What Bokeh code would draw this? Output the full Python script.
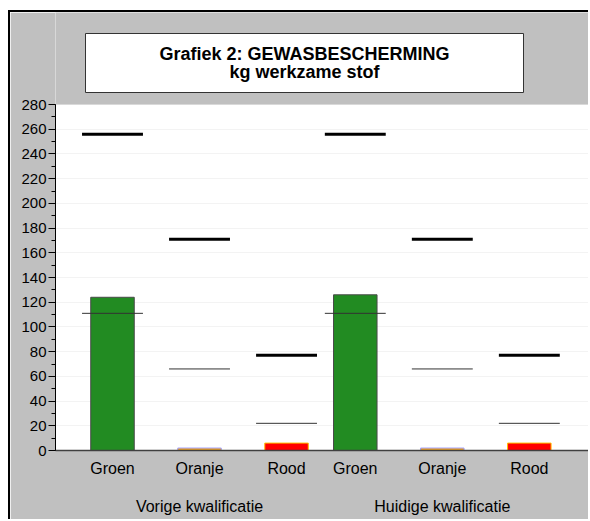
from bokeh.plotting import figure
from bokeh.models import Range1d, FixedTicker, LinearAxis, ColumnDataSource
from bokeh.core.properties import value
from bokeh.embed import file_html
from bokeh.resources import INLINE

# ---- data ----
groups = ["Vorige kwalificatie", "Huidige kwalificatie"]
categories = ["Groen", "Oranje", "Rood"]
bar_vorige = [124, 2, 6]
bar_huidige = [126, 2, 6]
upper_vorige = [256, 171, 77]
upper_huidige = [256, 171, 77]
lower_vorige = [111, 66, 22]
lower_huidige = [111, 66, 22]
y_ticks = list(range(0, 281, 20))
y_minor = list(range(0, 281, 10))
title_lines = ["Grafiek 2: GEWASBESCHERMING", "kg werkzame stof"]

bar_fill = ["#228B22", "#F5A623", "#FF0000"]
bar_line = ["#4a4a4a", "#a0a0ff", "#FFC000"]

GAP = 2.79  # group offset in category units
FONT = "Liberation Sans"
GRAY = "#C0C0C0"

# layout geometry (pixels)
CANVAS_W, CANVAS_H = 580, 509
BORDER_L, BORDER_R, BORDER_B = 45, 2, 71
FRAME_W = CANVAS_W - BORDER_L - BORDER_R
FRAME_H = CANVAS_H - BORDER_B
AXIS_H = 346                      # pixel height of the 0..280 axis
Y_MAX = 280
Y_END = Y_MAX * FRAME_H / AXIS_H  # frame extends up to the top of the panel
X0, X1 = -0.655, 5.47


def px_to_x(px):  # canvas px -> data x
    return X0 + (px - BORDER_L) * (X1 - X0) / FRAME_W


def py_to_y(py):  # canvas px from top -> data y
    return Y_END - py * Y_END / FRAME_H


xs, bars, ups, lows, fills, lines, labels = [], [], [], [], [], [], []
for g, (bv, uv, lv) in enumerate([(bar_vorige, upper_vorige, lower_vorige),
                                   (bar_huidige, upper_huidige, lower_huidige)]):
    for i, c in enumerate(categories):
        xs.append(i + g * GAP)
        bars.append(bv[i])
        ups.append(uv[i])
        lows.append(lv[i])
        fills.append(bar_fill[i])
        lines.append(bar_line[i])
        labels.append(c)

src = ColumnDataSource(dict(x=xs, bar=bars, up=ups, low=lows, fill=fills, line=lines))

p = figure(width=CANVAS_W, height=CANVAS_H, output_backend="svg", toolbar_location=None,
           x_range=Range1d(X0, X1), y_range=Range1d(0, Y_END),
           min_border_left=BORDER_L, min_border_right=BORDER_R,
           min_border_top=0, min_border_bottom=BORDER_B)
p.margin = (10, 0, 0, 8)
p.styles = {"border-left": "2px solid black", "border-top": "2px solid black"}
p.border_fill_color = GRAY
p.background_fill_color = "white"
p.outline_line_color = None

# gray header region above the plot area (extends past the frame edges)
p.quad(left=[X0 - 1], right=[X1 + 1], bottom=[Y_MAX], top=[Y_END + 20],
       fill_color=GRAY, line_color=None)

p.vbar(x="x", top="bar", bottom=0, width=0.5, source=src,
       fill_color="fill", line_color="line", line_width=1)
p.segment(x0=[x - 0.35 for x in xs], x1=[x + 0.35 for x in xs], y0=lows, y1=lows,
          line_color="#333333", line_width=1)
p.segment(x0=[x - 0.35 for x in xs], x1=[x + 0.35 for x in xs], y0=ups, y1=ups,
          line_color="black", line_width=3)

# title box
p.quad(left=[px_to_x(75)], right=[px_to_x(513)], top=[py_to_y(21)], bottom=[py_to_y(80)],
       fill_color="white", line_color="#333333", line_width=1)
p.text(x=[px_to_x(294)] * 2, y=[py_to_y(41), py_to_y(59)], text=title_lines,
       text_align="center", text_baseline="middle",
       text_font=value(FONT), text_font_style="bold", text_font_size="18px",
       text_color="black")

# y axis
ya = p.yaxis[0]
ya.bounds = (0, Y_MAX)
ya.ticker = FixedTicker(ticks=y_ticks, minor_ticks=y_minor)
ya.major_label_text_font = FONT
ya.major_label_text_font_size = "15px"
ya.major_label_text_color = "black"
ya.axis_line_color = "black"
ya.major_tick_line_color = "black"
ya.minor_tick_line_color = "black"
ya.major_tick_out = 7
ya.major_tick_in = 0
ya.minor_tick_out = 4
ya.minor_tick_in = 0
ya.major_label_standoff = 2

# x axis (categories)
xa = p.xaxis[0]
xa.ticker = FixedTicker(ticks=xs)
xa.major_label_overrides = {x: l for x, l in zip(xs, labels)}
xa.major_label_text_font = FONT
xa.major_label_text_font_size = "16px"
xa.major_label_text_color = "black"
xa.axis_line_color = "#404040"
xa.axis_line_width = 1.5
xa.major_tick_line_color = None
xa.minor_tick_line_color = None
xa.major_label_standoff = 3

# group axis
gx = [1 + g * GAP for g in range(len(groups))]
ga = LinearAxis(ticker=FixedTicker(ticks=gx),
                major_label_overrides={x: l for x, l in zip(gx, groups)})
ga.major_label_text_font = FONT
ga.major_label_text_font_size = "16px"
ga.major_label_text_color = "black"
ga.axis_line_color = None
ga.major_tick_line_color = None
ga.minor_tick_line_color = None
ga.major_label_standoff = 12
p.add_layout(ga, "below")

p.xgrid.grid_line_color = None
p.ygrid.grid_line_color = "#f3f3f3"
p.ygrid.ticker = FixedTicker(ticks=y_ticks)

open("out.html", "w").write(file_html(p, INLINE))
